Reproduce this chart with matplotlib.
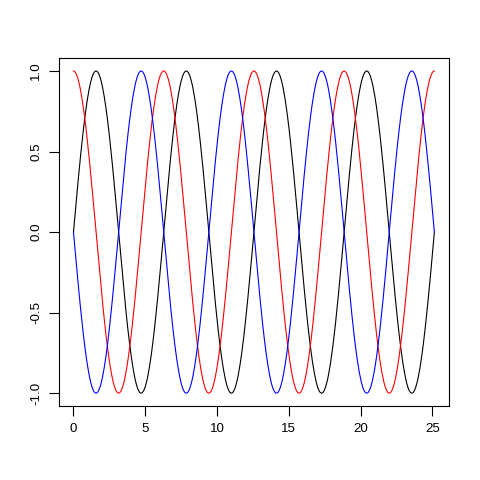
import numpy as np
import matplotlib
matplotlib.use("Agg")
import matplotlib.pyplot as plt

# curves: sin, cos and -sin over four full periods
x_start = 0.0
x_end = 8 * np.pi
n_points = 400
series_names = ["sin", "cos", "-sin"]
series_colors = ["black", "red", "blue"]
x_ticks = [0, 5, 10, 15, 20, 25]
y_ticks = [-1.0, -0.5, 0.0, 0.5, 1.0]
y_tick_labels = ["-1.0", "-0.5", "0.0", "0.5", "1.0"]

x = np.linspace(x_start, x_end, n_points)
curves = {"sin": np.sin(x), "cos": np.cos(x), "-sin": -np.sin(x)}

plt.rcParams['font.family'] = ['Liberation Sans', 'DejaVu Sans']
fig = plt.figure(figsize=(4.8, 4.8), dpi=100)
ax = fig.add_axes([0.123, 0.154, 0.812, 0.725])

for name, col in zip(series_names, series_colors):
    ax.plot(x, curves[name], color=col, lw=0.8)

pad_x = 0.04 * (x_end - x_start)
ax.set_xlim(x_start - pad_x, x_end + pad_x)
ax.set_ylim(-1.08, 1.08)
ax.set_xticks(x_ticks)
ax.set_yticks(y_ticks)
ax.set_yticklabels(y_tick_labels, rotation=90, va="center")
ax.tick_params(direction="out", length=7, width=0.8, labelsize=9.6, pad=5, colors="black")
for s in ax.spines.values():
    s.set_linewidth(0.8)

fig.savefig("out.png", dpi=100)
